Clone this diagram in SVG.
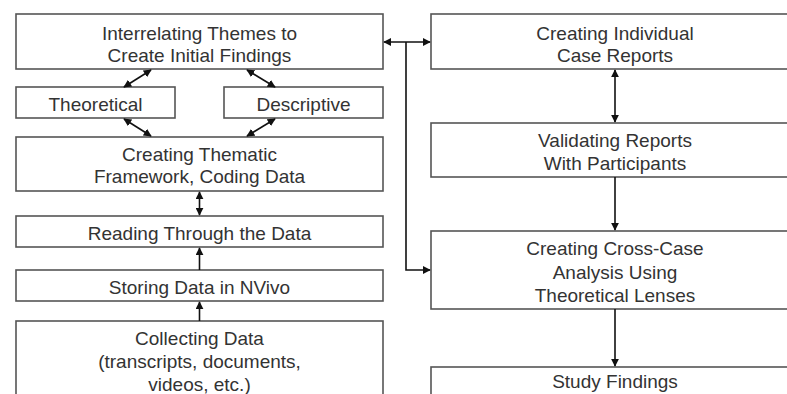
<svg xmlns="http://www.w3.org/2000/svg" width="787" height="394" viewBox="0 0 787 394">
<defs>
<marker id="ah" viewBox="0 0 10 10" refX="9" refY="5" markerWidth="8" markerHeight="8" markerUnits="userSpaceOnUse" orient="auto-start-reverse">
<path d="M0,0 L10,5 L0,10 Z" fill="#111"/>
</marker>
</defs>
<style>
rect{fill:#fff;stroke:#555;stroke-width:1.6}
text{font-family:"Liberation Sans",Arial,sans-serif;font-size:19px;fill:#333;text-anchor:middle}
.c{stroke:#111;stroke-width:1.6;fill:none}
</style>
<rect x="0" y="0" width="787" height="394" style="fill:#fff;stroke:none"/>
<g id="n-interrelating"><rect x="16" y="14" width="367" height="55"/><text x="199.5" y="39.5">Interrelating Themes to</text><text x="199.5" y="61.5">Create Initial Findings</text></g>
<g id="n-theoretical"><rect x="16" y="87" width="159" height="31"/><text x="95.5" y="110.5">Theoretical</text></g>
<g id="n-descriptive"><rect x="224" y="87" width="159" height="31"/><text x="303.5" y="110.5">Descriptive</text></g>
<g id="n-thematic"><rect x="16" y="137" width="367" height="54"/><text x="199.5" y="160.5">Creating Thematic</text><text x="199.5" y="183">Framework, Coding Data</text></g>
<g id="n-reading"><rect x="16" y="216" width="367" height="31"/><text x="199.5" y="239.5">Reading Through the Data</text></g>
<g id="n-storing"><rect x="16" y="270" width="367" height="31"/><text x="199.5" y="293.5">Storing Data in NVivo</text></g>
<g id="n-collecting"><rect x="16" y="321" width="367" height="90"/><text x="199.5" y="344.5">Collecting Data</text><text x="199.5" y="368">(transcripts, documents,</text><text x="199.5" y="391">videos, etc.)</text></g>
<g id="n-individual"><rect x="431" y="14" width="370" height="55"/><text x="615" y="39.5">Creating Individual</text><text x="615" y="61.5">Case Reports</text></g>
<g id="n-validating"><rect x="431" y="123" width="370" height="54"/><text x="615" y="147">Validating Reports</text><text x="615" y="169.5">With Participants</text></g>
<g id="n-crosscase"><rect x="431" y="231" width="370" height="78"/><text x="615" y="254.5">Creating Cross-Case</text><text x="615" y="278.5">Analysis Using</text><text x="615" y="301.5">Theoretical Lenses</text></g>
<g id="n-study"><rect x="431" y="367" width="370" height="50"/><text x="615" y="387.5">Study Findings</text></g>
<g id="connectors">
<line class="c" x1="151" y1="70" x2="124" y2="87" marker-start="url(#ah)" marker-end="url(#ah)"/>
<line class="c" x1="247" y1="70" x2="275" y2="87" marker-start="url(#ah)" marker-end="url(#ah)"/>
<line class="c" x1="124" y1="119" x2="151" y2="136" marker-start="url(#ah)" marker-end="url(#ah)"/>
<line class="c" x1="275" y1="119" x2="247" y2="136" marker-start="url(#ah)" marker-end="url(#ah)"/>
<line class="c" x1="199.5" y1="192" x2="199.5" y2="215" marker-start="url(#ah)" marker-end="url(#ah)"/>
<line class="c" x1="199.5" y1="270" x2="199.5" y2="248" marker-end="url(#ah)"/>
<line class="c" x1="199.5" y1="321" x2="199.5" y2="302" marker-end="url(#ah)"/>
<line class="c" x1="384" y1="42" x2="430" y2="42" marker-start="url(#ah)" marker-end="url(#ah)"/>
<polyline class="c" points="406,42 406,270 430,270" marker-end="url(#ah)"/>
<line class="c" x1="615" y1="70" x2="615" y2="122" marker-start="url(#ah)" marker-end="url(#ah)"/>
<line class="c" x1="615" y1="177" x2="615" y2="230" marker-end="url(#ah)"/>
<line class="c" x1="615" y1="309" x2="615" y2="366" marker-end="url(#ah)"/>
</g>
</svg>
